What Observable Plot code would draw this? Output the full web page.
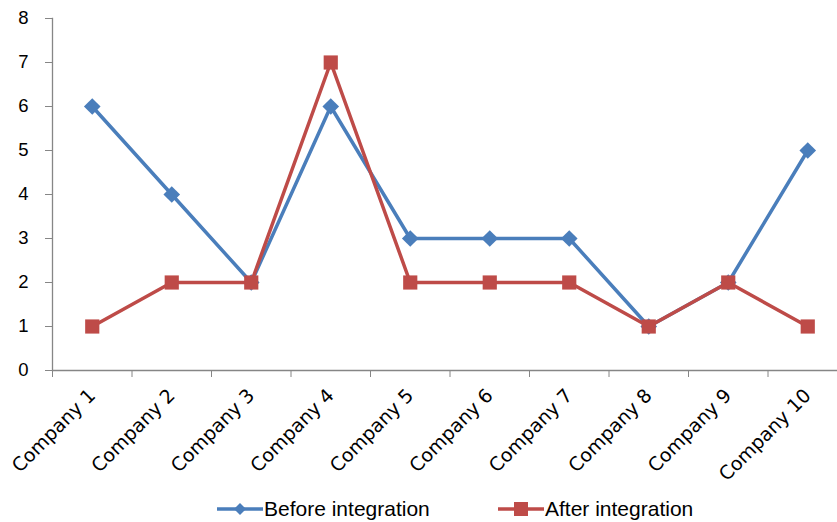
<!DOCTYPE html>
<html>
<head>
<meta charset="utf-8">
<script src="https://cdn.jsdelivr.net/npm/d3@7"></script>
<script src="https://cdn.jsdelivr.net/npm/@observablehq/plot@0.6"></script>
<style>
  html, body { margin: 0; padding: 0; background: #fff; overflow: hidden; }
  #chart { width: 837px; height: 522px; position: relative; }
  .legend { position: absolute; left: 0; top: 497px; width: 837px; font: 21px "Liberation Sans", Arial, sans-serif; color: #000; }
  .legend .item { position: absolute; display: flex; align-items: center; }
  .legend svg { margin-right: 1px; }
</style>
</head>
<body>
<div id="chart"></div>
<script>
const companies = ["Company 1", "Company 2", "Company 3", "Company 4", "Company 5",
                   "Company 6", "Company 7", "Company 8", "Company 9", "Company 10"];
const beforeIntegration = [6, 4, 2, 6, 3, 3, 3, 1, 2, 5];
const afterIntegration  = [1, 2, 2, 7, 2, 2, 2, 1, 2, 1];
const yTicks = [0, 1, 2, 3, 4, 5, 6, 7, 8];
const seriesNames = ["Before integration", "After integration"];
const seriesColors = ["#4a7ebb", "#be4b48"];

const before = companies.map((c, i) => ({company: c, value: beforeIntegration[i]}));
const after = companies.map((c, i) => ({company: c, value: afterIntegration[i]}));

const xRange = [52, 847];
const band = (xRange[1] - xRange[0]) / companies.length;
const axisColor = "#868686";

const plot = Plot.plot({
  width: 837,
  height: 485,
  marginTop: 18,
  marginLeft: 52,
  marginRight: 0,
  marginBottom: 115,
  x: {type: "band", domain: companies, range: xRange, padding: 0, round: false},
  y: {domain: [0, 8]},
  style: {background: "#fff"},
  marks: [
    // Y axis: ticks + labels, plus the vertical axis line
    Plot.axisY(yTicks, {tickSize: 7, tickPadding: 17, stroke: axisColor, color: "#000",
      fontSize: 18.5, fontFamily: "Liberation Sans, Arial, sans-serif", label: null}),
    Plot.frame({anchor: "left", stroke: axisColor, strokeWidth: 1.3}),
    // X axis: tick marks sit on category boundaries
    Plot.axisX(companies, {tickSize: 7, text: null, stroke: axisColor, dx: -band / 2, label: null}),
    Plot.axisX(companies, {tickSize: 0, tickPadding: 22, tickRotate: -45, fontSize: 19,
      fontFamily: "DejaVu Sans, sans-serif", fill: "#000", label: null}),
    Plot.ruleY([0], {stroke: axisColor, strokeWidth: 1.3}),
    // Series
    Plot.line(before, {x: "company", y: "value", stroke: seriesColors[0], strokeWidth: 3.5}),
    Plot.dot(before, {x: "company", y: "value", symbol: "diamond2", fill: seriesColors[0], r: 7.5, stroke: "none"}),
    Plot.line(after, {x: "company", y: "value", stroke: seriesColors[1], strokeWidth: 3.5}),
    Plot.dot(after, {x: "company", y: "value", symbol: "square", fill: seriesColors[1], r: 8, stroke: "none"})
  ]
});

const chart = document.getElementById("chart");
chart.appendChild(plot);

// Legend below the plot
const legend = document.createElement("div");
legend.className = "legend";
const lefts = [217, 498];
seriesNames.forEach((name, i) => {
  const item = document.createElement("div");
  item.className = "item";
  item.style.left = lefts[i] + "px";
  const marker = i === 0
    ? `<polygon points="23,2 29,8 23,14 17,8" fill="${seriesColors[i]}"/>`
    : `<rect x="16" y="1" width="14" height="14" fill="${seriesColors[i]}"/>`;
  item.innerHTML = `<svg width="46" height="16"><line x1="0" y1="8" x2="46" y2="8" stroke="${seriesColors[i]}" stroke-width="3.5"/>${marker}</svg><span>${name}</span>`;
  legend.appendChild(item);
});
chart.appendChild(legend);
</script>
</body>
</html>
